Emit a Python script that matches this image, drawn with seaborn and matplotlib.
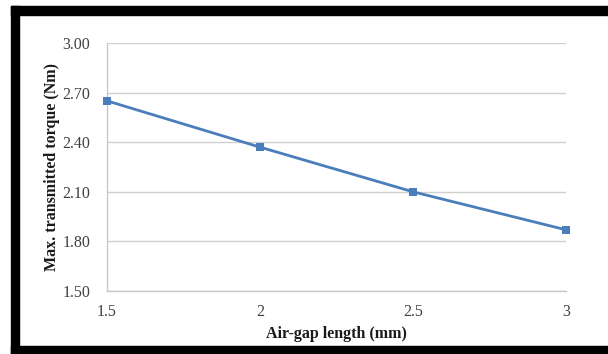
import matplotlib
matplotlib.use("Agg")
import matplotlib.pyplot as plt
import seaborn as sns
import pandas as pd
from matplotlib.patches import Rectangle

# Maximum transmitted torque versus air-gap length
air_gap_mm = [1.5, 2.0, 2.5, 3.0]
max_torque_nm = [2.65, 2.37, 2.10, 1.87]

x_ticks = [1.5, 2, 2.5, 3]
x_tick_labels = ["1.5", "2", "2.5", "3"]
y_ticks = [1.50, 1.80, 2.10, 2.40, 2.70, 3.00]

df = pd.DataFrame({"gap": air_gap_mm, "torque": max_torque_nm})

sns.set_theme(style="white")
plt.rcParams["font.family"] = ["Liberation Serif", "DejaVu Serif"]

fig = plt.figure(figsize=(6.08, 3.54), dpi=100)
ax = fig.add_axes([107 / 608, 1 - 291 / 354, (566 - 107) / 608, (291 - 43) / 354])

sns.lineplot(data=df, x="gap", y="torque", ax=ax, color="#4A7EBB",
             linewidth=2.0, marker="s", markersize=6, markeredgewidth=0,
             clip_on=False, zorder=5)

ax.set_xlim(1.5, 3.0)
ax.set_ylim(1.5, 3.0)
ax.set_xticks(x_ticks)
ax.set_xticklabels(x_tick_labels)
ax.set_yticks(y_ticks)
ax.set_yticklabels([f"{v:.2f}" for v in y_ticks])
ax.tick_params(axis="both", length=0, labelsize=11.5, colors="#404040")
ax.tick_params(axis="x", pad=9)
ax.tick_params(axis="y", pad=12)

ax.yaxis.grid(True, color="#D0D0D0", linewidth=1.0)
ax.xaxis.grid(False)
for side in ("top", "right"):
    ax.spines[side].set_visible(False)
for side in ("left", "bottom"):
    ax.spines[side].set_color("#C8C8C8")
    ax.spines[side].set_linewidth(1.0)

ax.set_xlabel("Air-gap length (mm)", fontsize=11.5, fontweight="bold",
              color="#1a1a1a", labelpad=5)
ax.set_ylabel("Max. transmitted torque (Nm)", fontsize=11.5, fontweight="bold",
              color="#1a1a1a", labelpad=2)

# Black frame around the chart
fig.patches.append(Rectangle((11 / 608, 1 - 15 / 354), 1, 9 / 354,
                             transform=fig.transFigure, color="black", zorder=0))
fig.patches.append(Rectangle((11 / 608, 0), 8 / 608, 1 - 6 / 354,
                             transform=fig.transFigure, color="black", zorder=0))
fig.patches.append(Rectangle((11 / 608, 0), 1, 8 / 354,
                             transform=fig.transFigure, color="black", zorder=0))

fig.savefig("out.png", dpi=100)
